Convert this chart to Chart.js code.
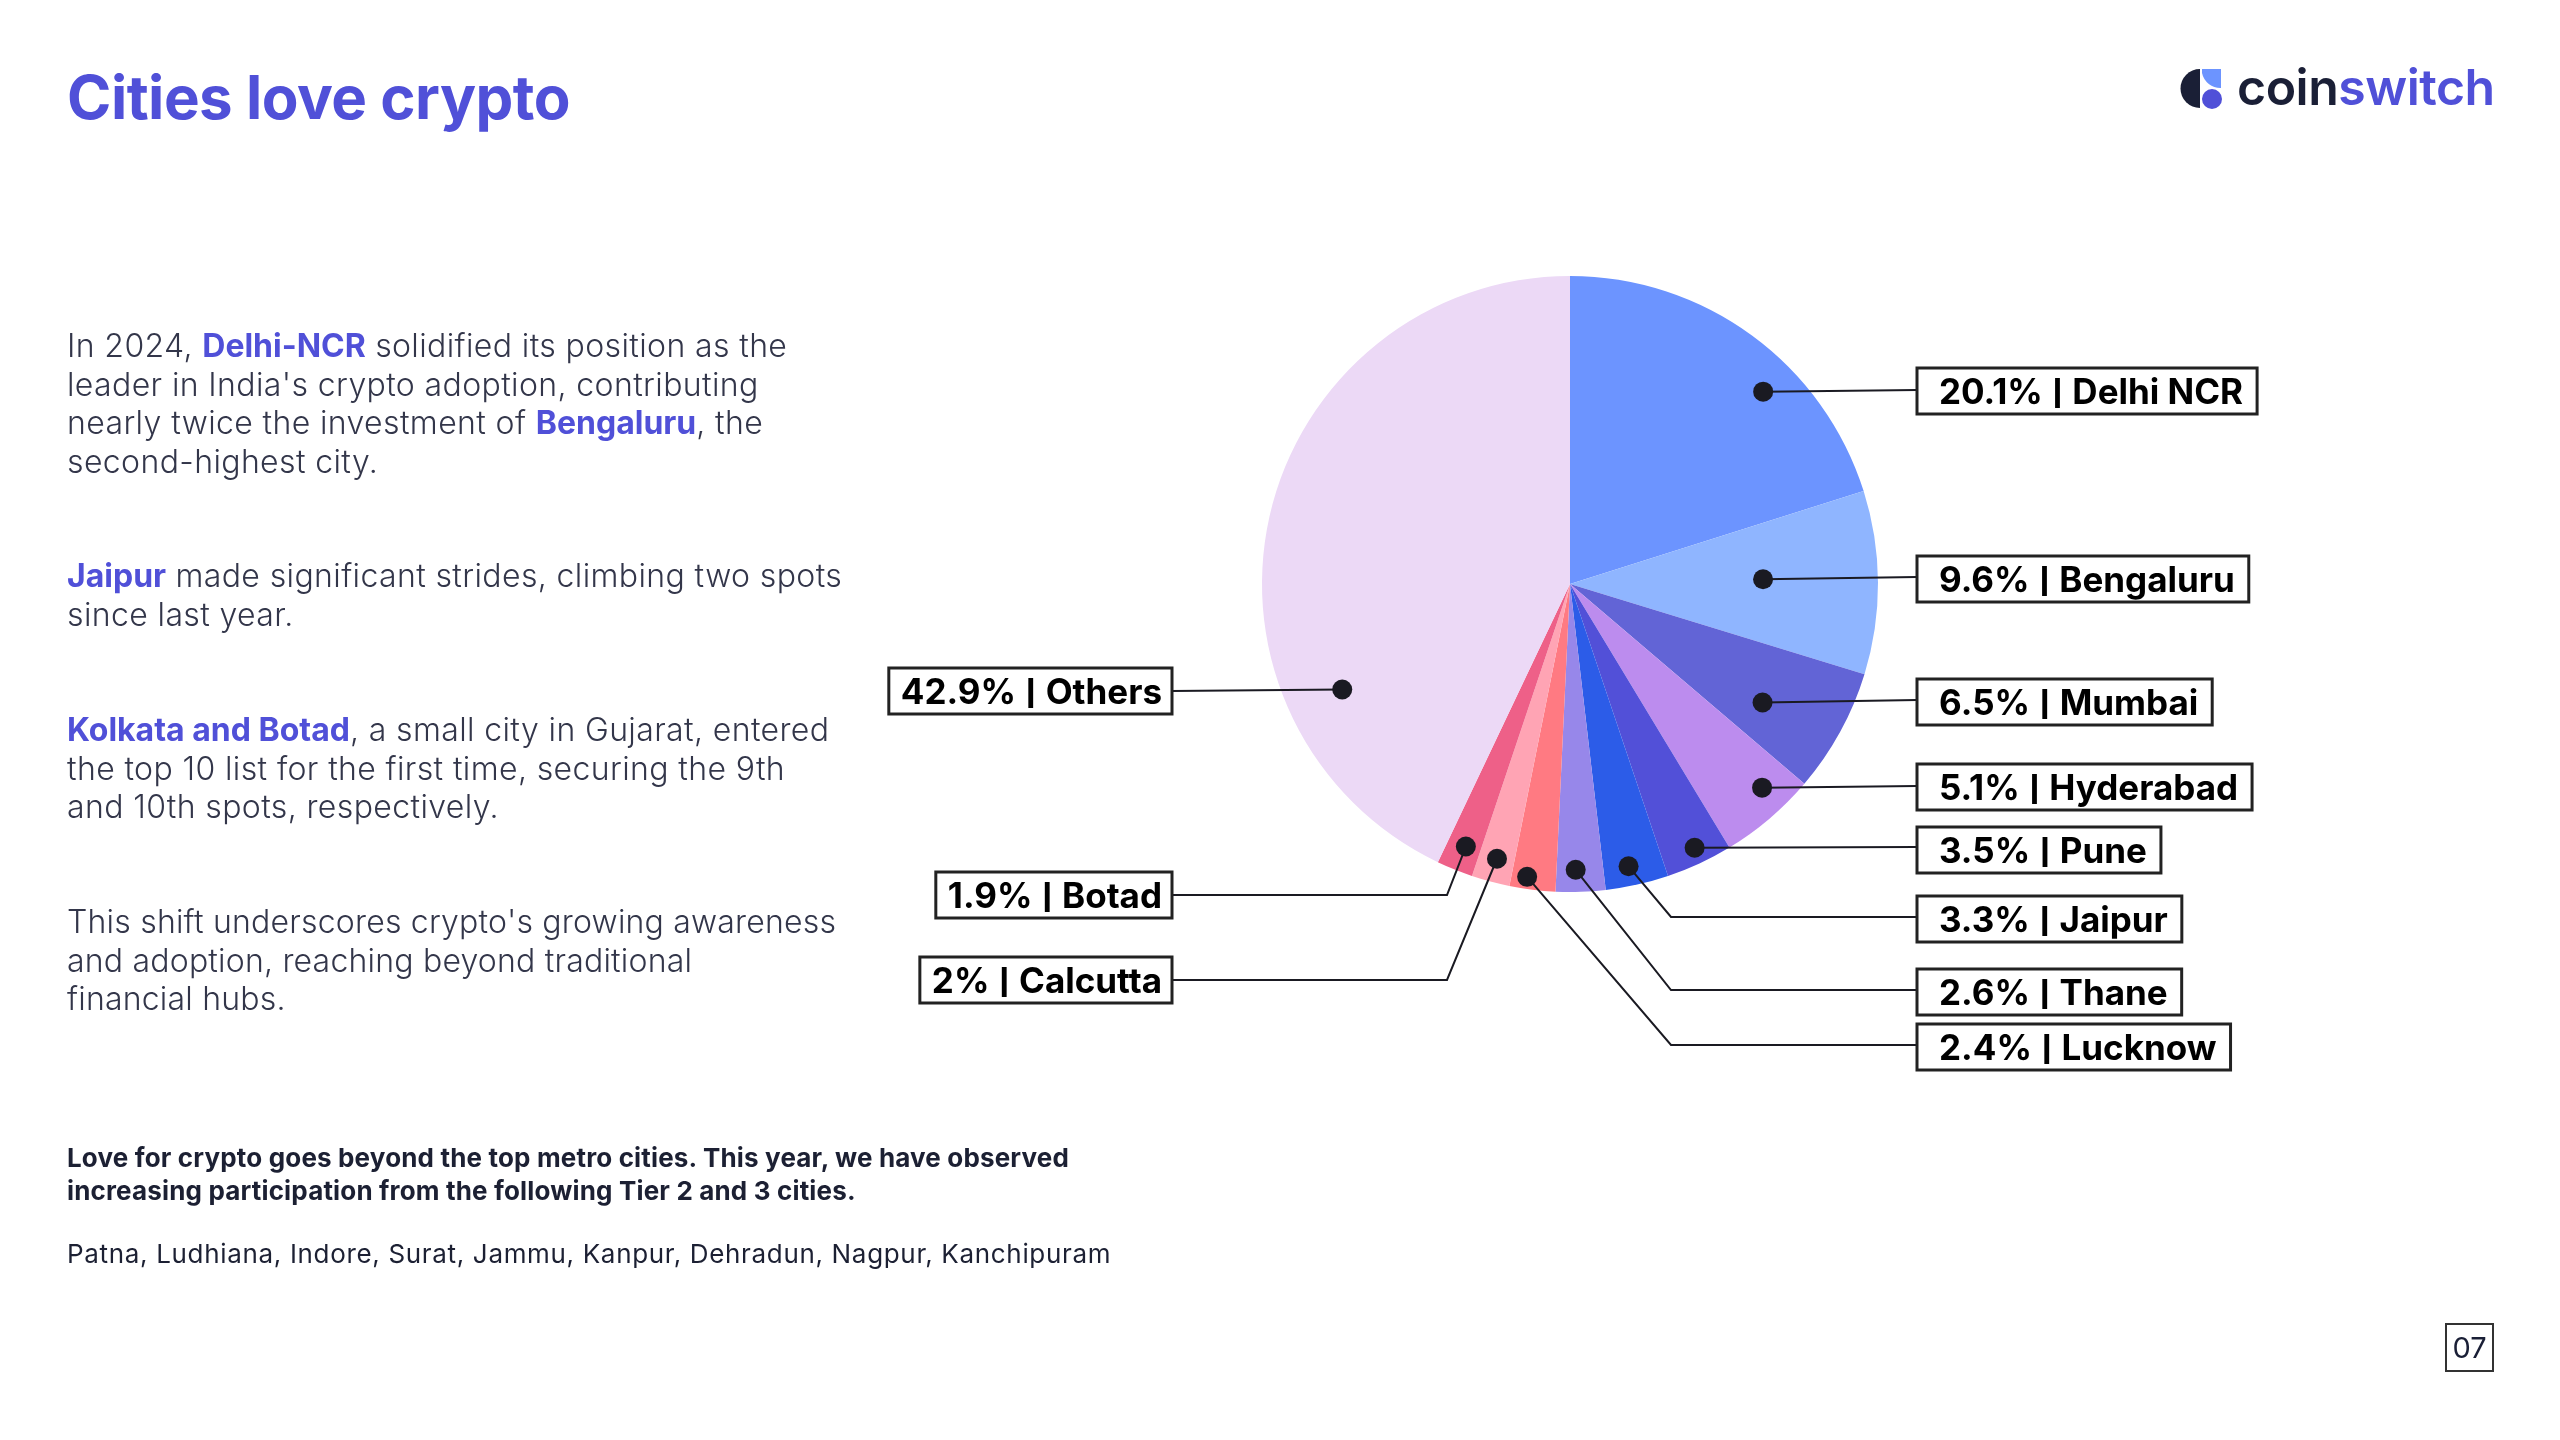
<!DOCTYPE html>
<html>
<head>
<meta charset="utf-8">
<title>Cities love crypto</title>
<script src="https://cdn.jsdelivr.net/npm/chart.js@4"></script>
<style>
  html, body { margin: 0; padding: 0; background: #fff; }
  #page { position: relative; width: 2560px; height: 1440px; overflow: hidden; font-family: Inter, sans-serif; }
  #cityChart { position: absolute; left: 0; top: 0; }
  .txt { position: absolute; left: 67px; white-space: nowrap; }
  h1 { margin: 0; top: 58px; font-size: 60px; line-height: 78px; font-weight: 700; color: #5050d8; letter-spacing: -0.5px; }
  .body { font-size: 32px; line-height: 38.6px; font-weight: 300; color: #33364a; letter-spacing: 0.38px; }
  .body b { font-weight: 700; color: #5050d8; letter-spacing: 0; }
  .small { font-size: 26px; line-height: 32.5px; color: #1c2033; }
  #logo { position: absolute; left: 2180px; top: 69px; }
  #logoText { position: absolute; left: 2237px; top: 57px; font-size: 50px; line-height: 60px; font-weight: 600; color: #1a1f36; letter-spacing: -0.5px; }
  #logoText span { color: #5050d8; }
  #pageNo { position: absolute; left: 2445px; top: 1323px; width: 45px; height: 45px; border: 2px solid #333; font-size: 29px; line-height: 45px; text-align: center; color: #1a1f36; }
</style>
</head>
<body>
<div id="page">
  <canvas id="cityChart" width="2560" height="1440"></canvas>
  <h1 class="txt">Cities love crypto</h1>
  <div class="txt body" style="top:327px">In 2024, <b>Delhi-NCR</b> solidified its position as the<br>leader in India's crypto adoption, contributing<br>nearly twice the investment of <b>Bengaluru</b>, the<br>second-highest city.</div>
  <div class="txt body" style="top:557px"><b>Jaipur</b> made significant strides, climbing two spots<br>since last year.</div>
  <div class="txt body" style="top:711px"><b>Kolkata and Botad</b>, a small city in Gujarat, entered<br>the top 10 list for the first time, securing the 9th<br>and 10th spots, respectively.</div>
  <div class="txt body" style="top:903px;letter-spacing:0.2px">This shift underscores crypto's growing awareness<br>and adoption, reaching beyond traditional<br>financial hubs.</div>
  <div class="txt small" style="top:1142px;font-weight:700;letter-spacing:0.16px">Love for crypto goes beyond the top metro cities. This year, we have observed<br>increasing participation from the following Tier 2 and 3 cities.</div>
  <div class="txt small" style="top:1238px;font-weight:400;letter-spacing:0.67px">Patna, Ludhiana, Indore, Surat, Jammu, Kanpur, Dehradun, Nagpur, Kanchipuram</div>
  <svg id="logo" width="42" height="41" viewBox="0 0 42 41">
    <path d="M20 0 A19.5 19.5 0 0 0 20 39 Z" fill="#1a1f36"/>
    <path d="M22 0 H41 V19 A19 19 0 0 1 22 4 Z" fill="#6c94ff"/>
    <circle cx="32" cy="30" r="10" fill="#5050d8"/>
  </svg>
  <div id="logoText">coin<span>switch</span></div>
  <div id="pageNo">07</div>
</div>
<script>
const cities = ['Delhi NCR', 'Bengaluru', 'Mumbai', 'Hyderabad', 'Pune', 'Jaipur', 'Thane', 'Lucknow', 'Calcutta', 'Botad', 'Others'];
const shares = [20.1, 9.6, 6.5, 5.1, 3.5, 3.3, 2.6, 2.4, 2, 1.9, 42.9];
const sliceColors = ['#6c94ff', '#8fb5ff', '#6264d6', '#bc8cee', '#5250d8', '#2c5ce8', '#9787ea', '#ff7a82', '#ffa4b4', '#ee6088', '#ecd9f6'];

// where the leader dot sits inside its slice: share of the sweep, share of the radius
const dotSweep = [0.623, 0.467, 0.622, 0.339, 0.466, 0.575, 0.59, 0.65, 0.49, 0.45, 0.257];
const dotRadius = [0.885, 0.627, 0.734, 0.909, 0.947, 0.936, 0.928, 0.961, 0.923, 0.917, 0.815];

// label boxes, page pixels: the edge the leader meets, box top, elbow of the leader, leader height
const boxes = [
  { edge: 1917, top: 368, elbow: null, lineY: 390 },
  { edge: 1917, top: 556, elbow: null, lineY: 577 },
  { edge: 1917, top: 679, elbow: null, lineY: 700 },
  { edge: 1917, top: 764, elbow: null, lineY: 786 },
  { edge: 1917, top: 827, elbow: null, lineY: 847 },
  { edge: 1917, top: 896, elbow: 1671, lineY: 917 },
  { edge: 1917, top: 969, elbow: 1671, lineY: 990 },
  { edge: 1917, top: 1024, elbow: 1671, lineY: 1045 },
  { edge: 1172, top: 957, elbow: 1447, lineY: 980, left: true },
  { edge: 1172, top: 872, elbow: 1447, lineY: 895, left: true },
  { edge: 1172, top: 668, elbow: null, lineY: 691, left: true }
];

const labelFont = '700 35px Inter, sans-serif';

const leaderLabels = {
  id: 'leaderLabels',
  afterDatasetsDraw(chart) {
    const { ctx } = chart;
    const arcs = chart.getDatasetMeta(0).data;
    ctx.save();
    arcs.forEach((arc, i) => {
      const box = boxes[i];
      const angle = arc.startAngle + (arc.endAngle - arc.startAngle) * dotSweep[i];
      const r = arc.outerRadius * dotRadius[i];
      const dotX = arc.x + Math.cos(angle) * r;
      const dotY = arc.y + Math.sin(angle) * r;

      ctx.strokeStyle = '#1a1a22';
      ctx.lineWidth = 2;
      ctx.beginPath();
      ctx.moveTo(dotX, dotY);
      if (box.elbow) ctx.lineTo(box.elbow, box.lineY);
      ctx.lineTo(box.edge, box.lineY);
      ctx.stroke();

      ctx.fillStyle = '#1a1a22';
      ctx.beginPath();
      ctx.arc(dotX, dotY, 10, 0, Math.PI * 2);
      ctx.fill();

      const prefix = `${shares[i]}% `;
      const text = `${prefix}| ${cities[i]}`;
      ctx.font = labelFont;
      const padLeft = box.left ? 12 : 22;
      const padRight = box.left ? 10 : 14;
      const w = ctx.measureText(text).width + padLeft + padRight;
      const x = box.left ? box.edge - w : box.edge;
      ctx.fillStyle = '#fff';
      ctx.fillRect(x, box.top, w, 46);
      ctx.strokeStyle = '#222';
      ctx.lineWidth = 3;
      ctx.strokeRect(x, box.top, w, 46);
      ctx.fillStyle = '#000';
      ctx.textBaseline = 'alphabetic';
      ctx.fillText(text, x + padLeft, box.top + 36);

      // Inter's bar runs the full box height, trim it to cap height like the original
      const barX = x + padLeft + ctx.measureText(prefix).width;
      const barW = ctx.measureText('|').width;
      ctx.fillStyle = '#fff';
      ctx.fillRect(barX, box.top + 2, barW, 8);
      ctx.fillRect(barX, box.top + 40, barW, 4);
    });
    ctx.restore();
  }
};

new Chart(document.getElementById('cityChart'), {
  type: 'pie',
  data: {
    labels: cities,
    datasets: [{
      data: shares,
      backgroundColor: sliceColors,
      borderWidth: 0,
      hoverOffset: 0
    }]
  },
  options: {
    responsive: false,
    animation: false,
    layout: { padding: { left: 1262, right: 682, top: 276, bottom: 548 } },
    plugins: {
      legend: { display: false },
      tooltip: { enabled: false }
    }
  },
  plugins: [leaderLabels]
});
</script>
</body>
</html>
